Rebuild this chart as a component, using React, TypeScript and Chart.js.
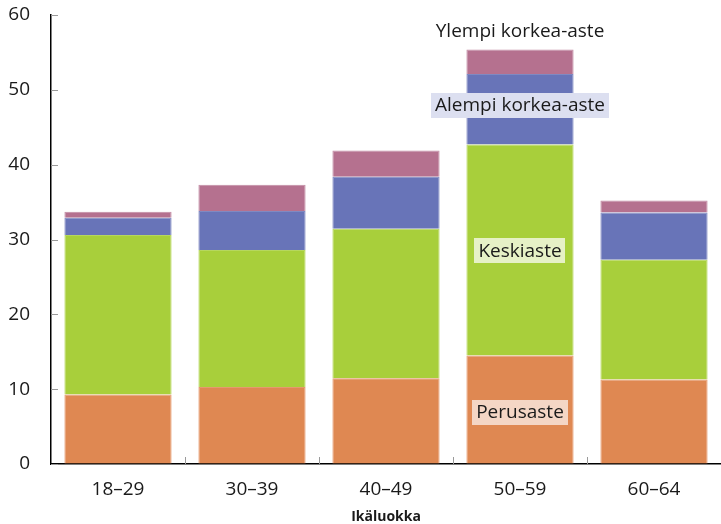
import React, { useEffect, useRef } from "react";
import { Chart, registerables } from "chart.js";

Chart.register(...registerables);

const categories = ["18–29", "30–39", "40–49", "50–59", "60–64"];
const perusaste = [9.3, 10.3, 11.45, 14.5, 11.3];
const keskiaste = [21.3, 18.3, 20.0, 28.2, 16.0];
const alempiKorkea = [2.3, 5.2, 6.95, 9.4, 6.3];
const ylempiKorkea = [0.8, 3.5, 3.5, 3.3, 1.6];
const yTicks = [0, 10, 20, 30, 40, 50, 60];

const seriesNames = ["Perusaste", "Keskiaste", "Alempi korkea-aste", "Ylempi korkea-aste"];
const labelValues = [7.0, 28.55, 48.0, 57.9];
const labelCategoryIndex = 3;

const seriesColors = ["#DF8852", "#A8CF3B", "#6874B8", "#B5718F"];
const borderColors = ["#E59A6E", "#B6D75E", "#7F89C2", "#C28BA3"];
const boxColors = ["#F4D6C5", "#E6F1C6", "#DCDFF0", null];

const FONT = "'Open Sans', sans-serif";

const innerPlugin = {
  id: "innerTicksAndLabels",
  afterDatasetsDraw(chart: any) {
    const { ctx, chartArea, scales } = chart;
    const x = scales.x;
    const y = scales.y;
    ctx.save();
    ctx.strokeStyle = "#9a9a9a";
    ctx.lineWidth = 1;
    ctx.beginPath();
    yTicks.forEach((v) => {
      const py = Math.round(y.getPixelForValue(v)) + 0.5;
      ctx.moveTo(chartArea.left, py);
      ctx.lineTo(chartArea.left + 7, py);
    });
    for (let i = 1; i < categories.length; i++) {
      const px = Math.round((x.getPixelForValue(i - 1) + x.getPixelForValue(i)) / 2) + 0.5;
      ctx.moveTo(px, chartArea.bottom);
      ctx.lineTo(px, chartArea.bottom - 7);
    }
    ctx.stroke();

    ctx.font = `19px ${FONT}`;
    ctx.textAlign = "center";
    ctx.textBaseline = "middle";
    const cx = x.getPixelForValue(labelCategoryIndex);
    seriesNames.forEach((name, i) => {
      const cy = y.getPixelForValue(labelValues[i]);
      const w = ctx.measureText(name).width;
      const bc = boxColors[i];
      if (bc) {
        ctx.fillStyle = bc;
        ctx.fillRect(Math.round(cx - w / 2 - 4), Math.round(cy - 12), Math.round(w + 8), 25);
      }
      ctx.fillStyle = "#1a1a1a";
      ctx.fillText(name, cx, cy + 1);
    });
    ctx.restore();
  },
};

export default function App() {
  const canvasRef = useRef<HTMLCanvasElement>(null);

  useEffect(() => {
    if (!canvasRef.current) return;
    const data = [perusaste, keskiaste, alempiKorkea, ylempiKorkea];
    const chart = new Chart(canvasRef.current, {
      type: "bar",
      data: {
        labels: categories,
        datasets: seriesNames.map((name, i) => ({
          label: name,
          data: data[i],
          backgroundColor: seriesColors[i],
          borderColor: borderColors[i],
          borderWidth: 1,
          categoryPercentage: 0.8,
          barPercentage: 1,
        })),
      },
      options: {
        animation: false,
        responsive: false,
        maintainAspectRatio: false,
        layout: { padding: { top: 15, right: 0, bottom: 0, left: 0 } },
        plugins: {
          legend: { display: false },
          tooltip: { enabled: false },
        },
        scales: {
          x: {
            stacked: true,
            grid: { display: false, drawTicks: false },
            border: { display: true, color: "#000", width: 1.5 },
            ticks: {
              color: "#1a1a1a",
              font: { family: FONT, size: 19 },
              padding: 14,
            },
            title: {
              display: true,
              text: "Ikäluokka",
              color: "#1a1a1a",
              font: { family: FONT, size: 14, weight: "bold", lineHeight: 1 },
              padding: { top: 0, bottom: 0 },
            },
            afterFit(scale: any) {
              scale.height = 60;
            },
          },
          y: {
            stacked: true,
            min: 0,
            max: 60,
            grid: {
              display: true,
              drawOnChartArea: false,
              drawTicks: true,
              tickLength: 21,
              color: "rgba(0,0,0,0)",
            },
            border: { display: true, color: "#000", width: 1.5 },
            ticks: {
              stepSize: 10,
              color: "#1a1a1a",
              font: { family: FONT, size: 19 },
              padding: 0,
            },
            afterFit(scale: any) {
              scale.width = 51;
            },
          },
        },
      },
      plugins: [innerPlugin],
    });
    return () => chart.destroy();
  }, []);

  return (
    <div style={{ position: "absolute", left: 0, top: 0, width: 721, height: 524, background: "#fff" }}>
      <canvas ref={canvasRef} width={721} height={524} style={{ display: "block" }} />
    </div>
  );
}
